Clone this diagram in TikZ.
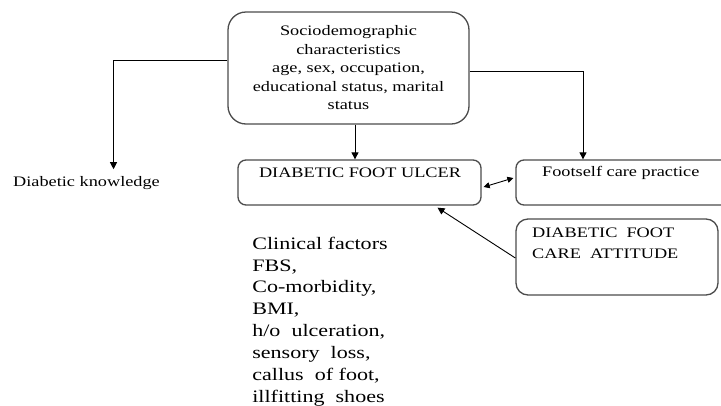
\documentclass[tikz,border=0pt]{standalone}
\usepackage{fontspec}
\setmainfont{Liberation Serif}[FakeStretch=1.26]
\usetikzlibrary{arrows.meta,calc}
\begin{document}
\begin{tikzpicture}[x=1pt,y=-1pt,
  box/.style={draw=black!70, line width=1.3pt, rounded corners=#1, inner sep=0pt},
  box/.default=8pt,
  arr/.style={-{Triangle[length=7pt,width=7pt]}, line width=0.9pt},
  darr/.style={{Triangle[length=6pt,width=6pt]}-{Triangle[length=6pt,width=6pt]}, line width=0.9pt},
  txt/.style={font=\fontsize{14.5}{18.5}\selectfont, inner sep=0pt},
  bigtxt/.style={font=\fontsize{17.5}{21.9}\selectfont, inner sep=0pt, align=left}]
\useasboundingbox (0,0) rectangle (721,405);
% boxes
\node[box=18pt, minimum width=241pt, minimum height=112pt] (top) at (348.5,68) {};
\node[box=8pt, minimum width=243pt, minimum height=45pt] (dfu) at (359.5,182.5) {};
\node[box=8pt, minimum width=224pt, minimum height=45pt] (foot) at (628,182.5) {};
\node[box=12pt, minimum width=202pt, minimum height=76pt] (att) at (617,257) {};
% texts
\node[txt, align=center] (toptxt) at (348.5,68) {Sociodemographic\\characteristics\\age, sex, occupation,\\educational status, marital\\status};
\node[txt] (dfutxt) at (360,173) {DIABETIC FOOT ULCER};
\node[txt, anchor=west] (foottxt) at (542,173) {Footself care practice};
\node[txt, anchor=west, align=left, font=\fontsize{14.5}{21}\selectfont] (atttxt) at (532,243.5) {DIABETIC\ \ FOOT\\CARE\ \ ATTITUDE};
\node[txt, anchor=west] (know) at (13,183) {Diabetic knowledge};
\node[bigtxt, anchor=center] (clin) at (320,321.5) {Clinical factors\\FBS,\\Co-morbidity,\\BMI,\\h/o\ \ ulceration,\\sensory\ \ loss,\\callus\ \ of foot,\\illfitting\ \ shoes};
% connectors
\coordinate (midtop) at ($(top.south)+(6.5,0)$);
\coordinate (midbot) at (midtop |- dfu.north);
\draw[arr] ($(top.west)+(0,-8)$) -| ($(know.north)+(27,-7)$);
\draw[arr] ($(top.east)+(0,3)$) -| ($(foot.north)+(-45,0)$);
\draw[arr] (midtop) -- (midbot);
\draw[darr] ($(dfu.east)+(2,4.5)$) -- ($(foot.west)+(-2,-4.5)$);
\draw[arr] ($(att.west)+(0,1)$) -- ($(dfu.south)+(78,2)$);
\end{tikzpicture}
\end{document}
